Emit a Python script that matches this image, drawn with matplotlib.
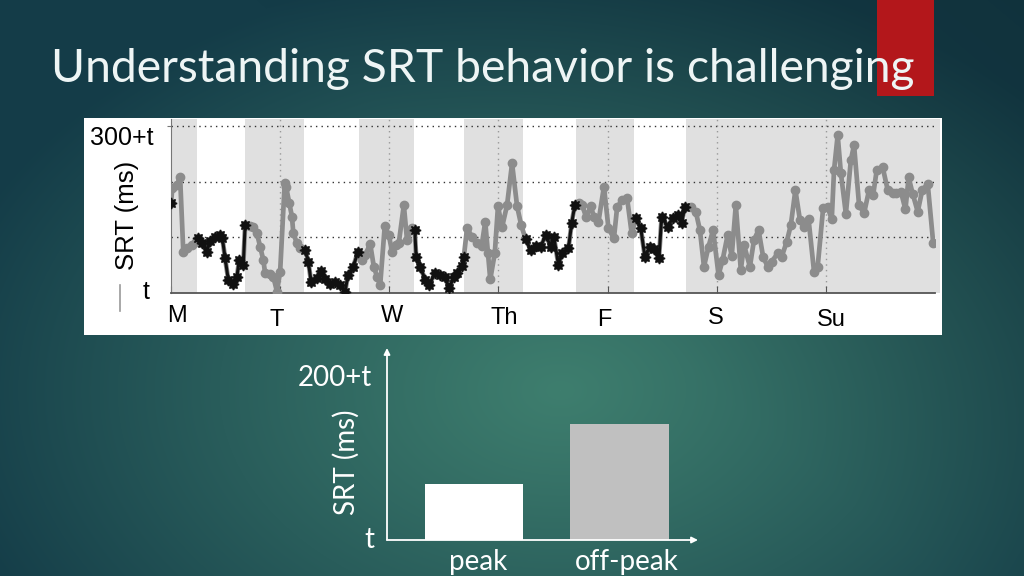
import numpy as np
import matplotlib
matplotlib.use("Agg")
import matplotlib.pyplot as plt
from matplotlib.patches import Rectangle

# ---------------- data ----------------
title = "Understanding SRT behavior is challenging"
day_labels = ["M", "T", "W", "Th", "F", "S", "Su"]

hours = [0.0, 0.3, 1.3, 2.0, 2.7, 3.5, 4.6, 5.6, 6.0, 6.9, 7.9, 8.6, 9.7, 10.8, 11.3, 11.9,
         12.6, 13.7, 14.5, 15.0, 15.9, 16.3, 17.4, 18.1, 18.9, 19.6, 20.3, 20.7, 21.8, 22.5,
         23.3, 24.0, 25.0, 25.3, 26.0, 26.6, 26.9, 27.7, 28.4, 29.5, 30.2, 30.8, 32.1, 33.0,
         33.8, 35.0, 36.1, 37.2, 38.3, 38.9, 40.1, 41.1, 42.0, 42.7, 43.8, 44.6, 45.3, 46.0,
         47.0, 47.9, 48.6, 49.5, 50.1, 51.2, 51.9, 53.0, 53.6, 53.9, 54.8, 55.9, 56.8, 58.0,
         59.2, 60.2, 61.2, 62.2, 62.9, 63.9, 64.4, 65.1, 66.2, 67.3, 68.3, 69.1, 69.7, 70.2,
         71.2, 71.9, 72.8, 73.9, 75.0, 76.1, 77.0, 78.0, 79.1, 80.2, 81.3, 82.4, 83.5, 84.2,
         85.2, 86.0, 87.4, 88.1, 88.8, 89.7, 90.4, 91.3, 92.3, 93.0, 94.0, 95.2, 96.2, 97.4,
         98.1, 99.2, 100.3, 101.3, 102.3, 103.3, 104.2, 105.3, 106.2, 107.3, 107.9, 109.2,
         110.3, 111.4, 112.3, 113.0, 114.3, 115.4, 116.3, 117.2, 118.2, 119.2, 120.4, 121.3,
         122.4, 123.3, 124.2, 125.3, 126.0, 127.3, 128.2, 129.2, 130.2, 131.2, 132.1, 133.4,
         134.3, 135.4, 136.3, 137.3, 138.3, 139.2, 140.2, 141.4, 142.2, 143.4, 144.4, 145.3,
         145.8, 146.6, 147.3, 148.4, 149.5, 150.2, 151.3, 152.4, 153.5, 154.4, 155.2, 156.5,
         157.6, 158.7, 159.4, 160.5, 161.5, 162.2, 163.1, 164.2, 165.2, 166.4, 167.6]

srt = [162, 188, 194, 209, 74, 80, 86, 92, 98, 89, 74, 94, 100, 104, 98, 62, 23, 16, 29, 59,
       50, 122, 120, 118, 107, 83, 59, 35, 34, 29, 2, 38, 197, 191, 162, 137, 107, 89, 80, 77,
       56, 20, 26, 40, 24, 16, 20, 14, 2, 32, 47, 74, 59, 68, 88, 47, 29, 14, 120, 104, 74, 86,
       90, 158, 95, 116, 113, 65, 47, 23, 14, 35, 32, 29, 8, 29, 35, 48, 65, 116, 101, 90, 84,
       128, 71, 24, 71, 156, 118, 158, 233, 156, 122, 96, 77, 84, 83, 104, 83, 100, 50, 71, 80,
       125, 158, 161, 158, 136, 156, 137, 128, 191, 116, 98, 154, 167, 170, 107, 134, 116, 65,
       82, 78, 62, 137, 119, 134, 140, 126, 155, 154, 146, 113, 47, 83, 113, 32, 59, 104, 66,
       158, 41, 86, 47, 95, 113, 65, 47, 56, 71, 65, 92, 122, 185, 131, 118, 132, 38, 47, 152,
       154, 132, 221, 284, 216, 142, 239, 266, 158, 143, 185, 176, 222, 226, 185, 180, 179,
       182, 150, 208, 178, 146, 185, 196, 90]

# peak (white, weekday business hours) windows in hours from Monday 00:00
peak_start = [5.7, 29.3, 53.5, 77.5, 101.8]
peak_end = [16.35, 41.4, 64.5, 89.0, 113.2]

bar_categories = ["peak", "off-peak"]
bar_values = [69, 143]

# ---------------- figure ----------------
W, H = 1024, 576
fig = plt.figure(figsize=(W / 100, H / 100), dpi=100)


def fx(x):
    return x / W


def fy(y):
    return 1 - y / H


# background gradient
bg = fig.add_axes([0, 0, 1, 1])
bg.set_axis_off()
yy, xx = np.mgrid[0:H, 0:W]
r = np.sqrt(((xx - 560) / 640.0) ** 2 + ((yy - 390) / 430.0) ** 2)
r = np.clip(r, 0, 1) ** 1.1
c_center = np.array([62, 126, 110]) / 255.0
c_edge = np.array([20, 60, 72]) / 255.0
img = c_center[None, None, :] * (1 - r[..., None]) + c_edge[None, None, :] * r[..., None]
# darker toward the top-right
tr = np.clip(((xx / W) * 0.6 + (1 - yy / H) * 0.4) - 0.55, 0, 1)[..., None]
img = img * (1 - 0.35 * tr)
bg.imshow(img, extent=[0, W, H, 0], aspect="auto", zorder=0)
bg.set_xlim(0, W)
bg.set_ylim(H, 0)

# red accent box
bg.add_patch(Rectangle((877, 0), 57, 96, facecolor="#b3171b", edgecolor="none", zorder=1))

# white panel behind the time series
bg.add_patch(Rectangle((84, 118), 858, 217, facecolor="white", edgecolor="none", zorder=1))
# small grey mark at left of panel
bg.plot([120, 120], [285, 311], color="#9a9a9a", lw=1.2, zorder=2)

# title
title_font = dict(family=["Lato", "DejaVu Sans"], color="#eef5f5")
t = fig.text(fx(51), fy(82), title, fontsize=32, ha="left", va="baseline", zorder=5, **title_font)
fig.canvas.draw()
bb = t.get_window_extent(renderer=fig.canvas.get_renderer())
t.set_fontsize(32 * 865.0 / bb.width)

# ---------------- time series panel ----------------
x0, x1 = 171, 935
ybot, ytop = 292.7, 119
ax = fig.add_axes([fx(x0), fy(ybot), (x1 - x0) / W, (ybot - ytop) / H])
ax.set_facecolor("white")
ax.set_xlim(0, 168)
ax.set_ylim(0, 313)

# off-peak shading = complement of peak windows
off_starts = [0] + peak_end
off_ends = peak_start + [169.1]
for s, e in zip(off_starts, off_ends):
    ax.axvspan(s, e, ymin=0, ymax=1, facecolor="#e0e0e0", edgecolor="none", zorder=0,
               clip_on=False)

for gy in (100, 200, 300):
    ax.axhline(gy, color="#333333", lw=1.0, ls=(0, (1, 3)), zorder=1)
for gx in range(24, 168, 24):
    ax.axvline(gx, color="#999999", lw=1.0, ls=(0, (1, 3)), zorder=1)

h = np.array(hours, dtype=float)
v = np.array(srt, dtype=float)
n = min(len(h), len(v))
h, v = h[:n], v[:n]
is_peak = np.zeros(n, dtype=bool)
for s, e in zip(peak_start, peak_end):
    is_peak |= (h >= s) & (h <= e)
is_peak[0] = True  # first sample belongs to preceding peak period

ax.plot(h, v, color="#8c8c8c", lw=3.4, marker="o", ms=6, mfc="#8c8c8c", mec="#8c8c8c",
        zorder=3, solid_joinstyle="round")
# black runs for peak periods
idx = np.where(is_peak)[0]
runs = np.split(idx, np.where(np.diff(idx) != 1)[0] + 1)
for run in runs:
    if len(run) == 0:
        continue
    ax.plot(h[run], v[run], color="#111111", lw=2.2, marker=(8, 1, 0), ms=8, mfc="#111111",
            mec="#111111", zorder=4)

for sp in ("top", "right"):
    ax.spines[sp].set_visible(False)
ax.spines["left"].set_color("#777777")
ax.spines["bottom"].set_color("#555555")
ax.spines["bottom"].set_linewidth(1.3)
ax.spines["left"].set_linewidth(0.8)
ax.set_xticks(range(0, 168, 24))
ax.set_xticklabels([])
ax.set_yticks([300])
ax.set_yticklabels([])
ax.tick_params(axis="x", direction="in", length=5, color="#555555")
ax.tick_params(axis="y", direction="out", length=3, color="#777777")

arial = dict(family=["Liberation Sans", "DejaVu Sans"], color="black")
fig.text(fx(122), fy(138), "300+t", fontsize=18, ha="center", va="center", **arial)
fig.text(fx(146), fy(292), "t", fontsize=18, ha="center", va="center", **arial)
fig.text(fx(127), fy(215), "SRT (ms)", fontsize=18.5, ha="center", va="center", rotation=90,
         **arial)
day_pos = [(177, 316), (277, 320), (392, 316), (504, 318), (604, 320), (716, 318), (831, 320)]
for lab, (px, py) in zip(day_labels, day_pos):
    fig.text(fx(px), fy(py), lab, fontsize=17, ha="center", va="center", **arial)

# ---------------- bar chart ----------------
bx0, bx1 = 387, 698
by0, by1 = 540, 348
bax = fig.add_axes([fx(bx0), fy(by0), (bx1 - bx0) / W, (by0 - by1) / H])
bax.patch.set_alpha(0)
bax.set_xlim(-0.603, 1.541)
bax.set_ylim(0, 237)
bax.bar([0, 1], bar_values, width=0.676, color=["white", "#c0c0c0"], edgecolor="none", zorder=2)
for sp in bax.spines.values():
    sp.set_visible(False)
bax.set_xticks([])
bax.set_yticks([])
arrow_kw = dict(arrowstyle="-|>", color="white", lw=1.3, mutation_scale=9, shrinkA=0, shrinkB=0)
bax.annotate("", xy=(0, 1), xytext=(0, 0), xycoords="axes fraction", textcoords="axes fraction",
             arrowprops=arrow_kw)
bax.annotate("", xy=(1, 0), xytext=(0, 0), xycoords="axes fraction", textcoords="axes fraction",
             arrowprops=arrow_kw)

gfont = dict(family=["Lato", "DejaVu Sans"], color="white")
fig.text(fx(372), fy(378), "200+t", fontsize=20, ha="right", va="center", **gfont)
fig.text(fx(369), fy(540), "t", fontsize=20, ha="center", va="center", **gfont)
fig.text(fx(346), fy(462), "SRT (ms)", fontsize=20, ha="center", va="center", rotation=90,
         **gfont)
for lab, px in zip(bar_categories, [478, 627]):
    fig.text(fx(px), fy(562), lab, fontsize=20, ha="center", va="center", **gfont)

fig.savefig("out.png", dpi=100)
